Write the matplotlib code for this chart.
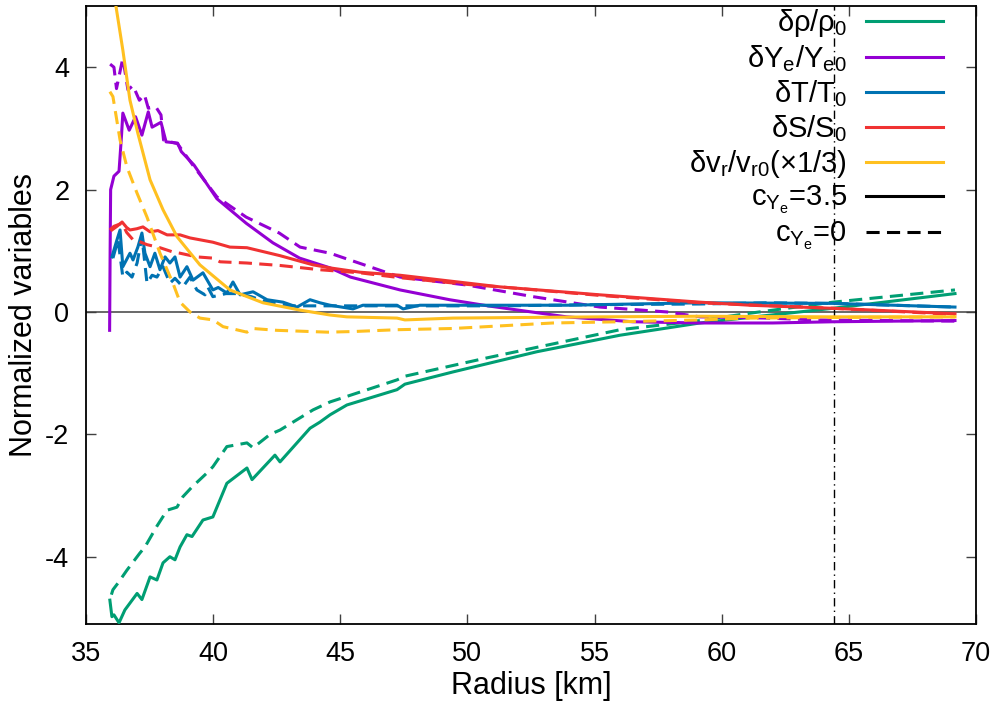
import matplotlib
matplotlib.use("Agg")
import matplotlib.pyplot as plt
from matplotlib.lines import Line2D

plt.rcParams["font.family"] = ["Liberation Sans", "DejaVu Sans"]
plt.rcParams["mathtext.fontset"] = "custom"
plt.rcParams["mathtext.rm"] = "Liberation Sans"
plt.rcParams["mathtext.it"] = "Liberation Sans"
plt.rcParams["mathtext.default"] = "rm"
plt.rcParams["axes.unicode_minus"] = False

# --- data (radius in km) ---
rho_x = [35.94, 36.02, 36.10, 36.30, 36.53, 37.01, 37.20, 37.52, 37.79, 38.03, 38.30, 38.50,
         38.70, 38.97, 39.17, 39.60, 39.99, 40.54, 41.33, 41.53, 42.43, 42.63, 43.81, 44.20,
         44.60, 45.26, 47.23, 47.54, 49.43, 52.73, 56.00, 59.14, 61.50, 64.37, 69.17]
rho_a = [-4.71, -4.98, -4.95, -5.08, -4.87, -4.60, -4.70, -4.33, -4.38, -4.10, -4.00, -4.05,
         -3.84, -3.64, -3.67, -3.40, -3.35, -2.80, -2.55, -2.74, -2.34, -2.45, -1.90, -1.80,
         -1.68, -1.52, -1.27, -1.18, -0.98, -0.65, -0.38, -0.18, -0.07, 0.06, 0.30]
rho_b_x = [36.00, 36.06, 36.26, 36.61, 37.12, 37.32, 37.79, 38.19, 38.58, 38.81, 39.17, 39.76,
           39.99, 40.54, 41.33, 41.57, 42.24, 42.63, 43.93, 44.60, 47.23, 47.54, 50.77, 56.00,
           59.14, 61.11, 64.37, 69.17]
rho_b = [-4.62, -4.54, -4.43, -4.22, -3.94, -3.84, -3.50, -3.24, -3.19, -3.02, -2.86, -2.63,
         -2.53, -2.20, -2.14, -2.22, -2.00, -1.93, -1.60, -1.47, -1.11, -1.05, -0.75, -0.29,
         -0.14, -0.02, 0.16, 0.36]

ye_x = [35.93, 35.95, 35.97, 36.10, 36.30, 36.40, 36.45, 36.70, 36.95, 37.20, 37.45, 37.60,
        37.95, 38.15, 38.60, 38.75, 39.25, 40.15, 41.30, 42.35, 43.40, 44.60, 45.40, 47.35,
        49.30, 50.80, 53.90, 56.50, 59.10, 62.00, 64.40, 69.17]
ye_a = [-0.30, 1.00, 2.00, 2.22, 2.30, 2.90, 3.25, 2.97, 3.19, 2.89, 3.27, 3.02,
        3.10, 2.78, 2.76, 2.62, 2.40, 1.85, 1.45, 1.13, 0.88, 0.72, 0.57, 0.36,
        0.20, 0.10, -0.08, -0.16, -0.18, -0.18, -0.16, -0.14]
ye_b_x = [35.95, 36.10, 36.20, 36.45, 36.65, 36.85, 37.10, 37.30, 37.45, 37.75, 37.95, 38.05,
          38.60, 39.20, 40.15, 41.30, 42.60, 43.42, 44.60, 47.35, 49.98, 52.58, 55.21, 57.85,
          59.14, 61.78, 63.75, 69.17]
ye_b = [4.05, 4.00, 3.65, 4.15, 3.63, 3.70, 3.46, 3.55, 3.33, 3.35, 3.22, 2.81,
        2.75, 2.40, 1.88, 1.55, 1.29, 1.06, 0.96, 0.57, 0.44, 0.25, 0.08, 0.00,
        -0.08, -0.10, -0.13, -0.15]

t_x = [36.02, 36.22, 36.34, 36.45, 36.73, 36.85, 37.04, 37.20, 37.32, 37.52, 37.71, 37.91,
       38.11, 38.30, 38.50, 38.70, 38.97, 39.21, 39.60, 39.99, 40.20, 40.54, 40.78, 41.06,
       41.57, 42.12, 42.75, 43.30, 43.81, 44.20, 44.60, 45.50, 45.89, 47.23, 47.47, 48.13,
       51.28, 53.91, 59.14, 64.37, 69.17]
t_a = [0.90, 1.18, 1.34, 0.74, 0.96, 0.85, 1.06, 1.29, 0.96, 0.74, 0.96, 0.69,
       0.90, 0.80, 0.90, 0.57, 0.74, 0.52, 0.64, 0.36, 0.40, 0.31, 0.49, 0.28,
       0.33, 0.20, 0.16, 0.08, 0.20, 0.15, 0.11, 0.05, 0.11, 0.11, 0.05, 0.11,
       0.11, 0.11, 0.15, 0.14, 0.08]
t_b_x = [36.06, 36.26, 36.45, 36.61, 36.81, 37.01, 37.20, 37.40, 37.60, 37.79, 38.03, 38.30,
         38.50, 38.81, 39.09, 39.36, 39.68, 39.80, 39.99, 40.50, 40.94, 41.50, 42.12, 43.00,
         44.60, 47.35, 51.28, 55.20, 59.14, 61.78, 64.37, 69.17]
t_b = [0.88, 1.18, 0.57, 0.65, 0.57, 0.80, 1.23, 0.47, 0.60, 0.57, 0.74, 0.47,
       0.55, 0.41, 0.57, 0.36, 0.28, 0.40, 0.25, 0.30, 0.30, 0.25, 0.16, 0.10,
       0.10, 0.10, 0.10, 0.12, 0.13, 0.15, 0.14, 0.08]

s_x = [36.02, 36.22, 36.42, 36.60, 36.73, 37.00, 37.24, 37.52, 37.83, 38.19, 38.70, 39.09,
       39.99, 40.66, 41.33, 42.63, 43.93, 44.60, 45.77, 47.35, 51.28, 55.21, 59.14, 61.11,
       64.37, 69.17]
s_a = [1.34, 1.40, 1.47, 1.38, 1.34, 1.36, 1.39, 1.31, 1.33, 1.26, 1.26, 1.21,
       1.14, 1.06, 1.05, 0.92, 0.77, 0.72, 0.65, 0.60, 0.41, 0.28, 0.16, 0.11,
       0.06, -0.03]
s_b_x = [35.94, 36.10, 36.42, 36.60, 36.85, 37.10, 37.40, 37.91, 38.42, 38.70, 39.36, 39.99,
         40.27, 41.33, 42.63, 44.20, 45.77, 47.35, 50.00, 51.28, 55.21, 59.14, 64.37, 69.17]
s_b = [1.34, 1.40, 1.45, 1.30, 1.18, 1.15, 1.10, 1.05, 0.98, 0.96, 0.90, 0.88,
       0.82, 0.80, 0.76, 0.69, 0.64, 0.56, 0.45, 0.41, 0.27, 0.15, 0.06, -0.04]

v_x = [35.98, 36.14, 36.45, 36.73, 37.04, 37.52, 38.03, 38.58, 39.48, 40.66, 41.96, 43.42,
       44.60, 45.26, 47.23, 47.54, 49.43, 55.21, 59.14, 64.37, 69.17]
v_a = [5.60, 5.10, 4.28, 3.46, 2.92, 2.16, 1.67, 1.23, 0.77, 0.36, 0.15, 0.03,
       -0.05, -0.08, -0.10, -0.13, -0.10, -0.08, -0.07, -0.08, -0.08]
v_b_x = [35.94, 36.06, 36.34, 36.61, 37.01, 37.40, 37.91, 38.42, 38.70, 39.09, 39.48, 40.00,
         40.39, 41.33, 41.55, 42.50, 44.50, 45.50, 47.23, 49.43, 53.36, 56.00, 59.14, 61.11,
         64.37, 69.17]
v_b = [3.60, 3.52, 2.81, 2.37, 1.94, 1.55, 0.96, 0.47, 0.16, 0.00, -0.10, -0.13,
       -0.24, -0.33, -0.27, -0.30, -0.33, -0.32, -0.29, -0.27, -0.18, -0.16, -0.13, -0.10,
       -0.09, -0.08]

r_mark = 64.4

COLORS = {
    "rho": "#009e73",
    "ye": "#9400d3",
    "t": "#0072b2",
    "s": "#f03232",
    "v": "#ffc020",
}
DASH = (0, (4.3, 2.4))
LW = 2.2

fig = plt.figure(figsize=(9.95, 7.08), dpi=100)
ax = fig.add_axes([0.0864, 0.1186, 0.8946, 0.8729])

ax.axhline(0, color="#404040", linewidth=1.1, zorder=1)
ax.axvline(r_mark, color="black", linewidth=1.0, linestyle=(0, (6, 3, 1, 3)), zorder=1)

series = [
    ("rho", rho_x, rho_a, rho_b_x, rho_b),
    ("ye", ye_x, ye_a, ye_b_x, ye_b),
    ("t", t_x, t_a, t_b_x, t_b),
    ("s", s_x, s_a, s_b_x, s_b),
    ("v", v_x, v_a, v_b_x, v_b),
]
for key, xa, ya, xb, yb in series:
    c = COLORS[key]
    ax.plot(xa, ya, color=c, linewidth=LW, zorder=3)
    ax.plot(xb, yb, color=c, linewidth=LW, linestyle=DASH, zorder=3)

ax.set_xlim(35, 70)
ax.set_ylim(-5.1, 5)
ax.set_xticks(range(35, 71, 5))
ax.set_yticks([-4, -2, 0, 2, 4])
ax.tick_params(direction="in", top=True, right=True, length=7, width=1.0,
               labelsize=19.5, pad=12, color="#404040")
for sp in ax.spines.values():
    sp.set_linewidth(1.3)
ax.set_xlabel("Radius [km]", fontsize=22, labelpad=3)
ax.set_ylabel("Normalized variables", fontsize=22, labelpad=4)

labels = [
    r"$\delta\rho/\rho_0$",
    r"$\delta Y_e/Y_{e0}$",
    r"$\delta T/T_0$",
    r"$\delta S/S_0$",
    r"$\delta v_r/v_{r0}(\times1/3)$",
    r"$c_{Y_e}$=3.5",
    r"$c_{Y_e}$=0",
]
handles = [Line2D([], [], color=COLORS[k], linewidth=LW) for k in ["rho", "ye", "t", "s", "v"]]
handles += [Line2D([], [], color="black", linewidth=LW),
            Line2D([], [], color="black", linewidth=LW, linestyle=DASH)]
ax.legend(handles, labels, loc="upper right", bbox_to_anchor=(0.963, 0.998),
          frameon=False, markerfirst=False, fontsize=21, handlelength=2.65,
          handletextpad=0.65, labelspacing=0.14, borderaxespad=0, borderpad=0)

fig.savefig("out.png", dpi=100)
